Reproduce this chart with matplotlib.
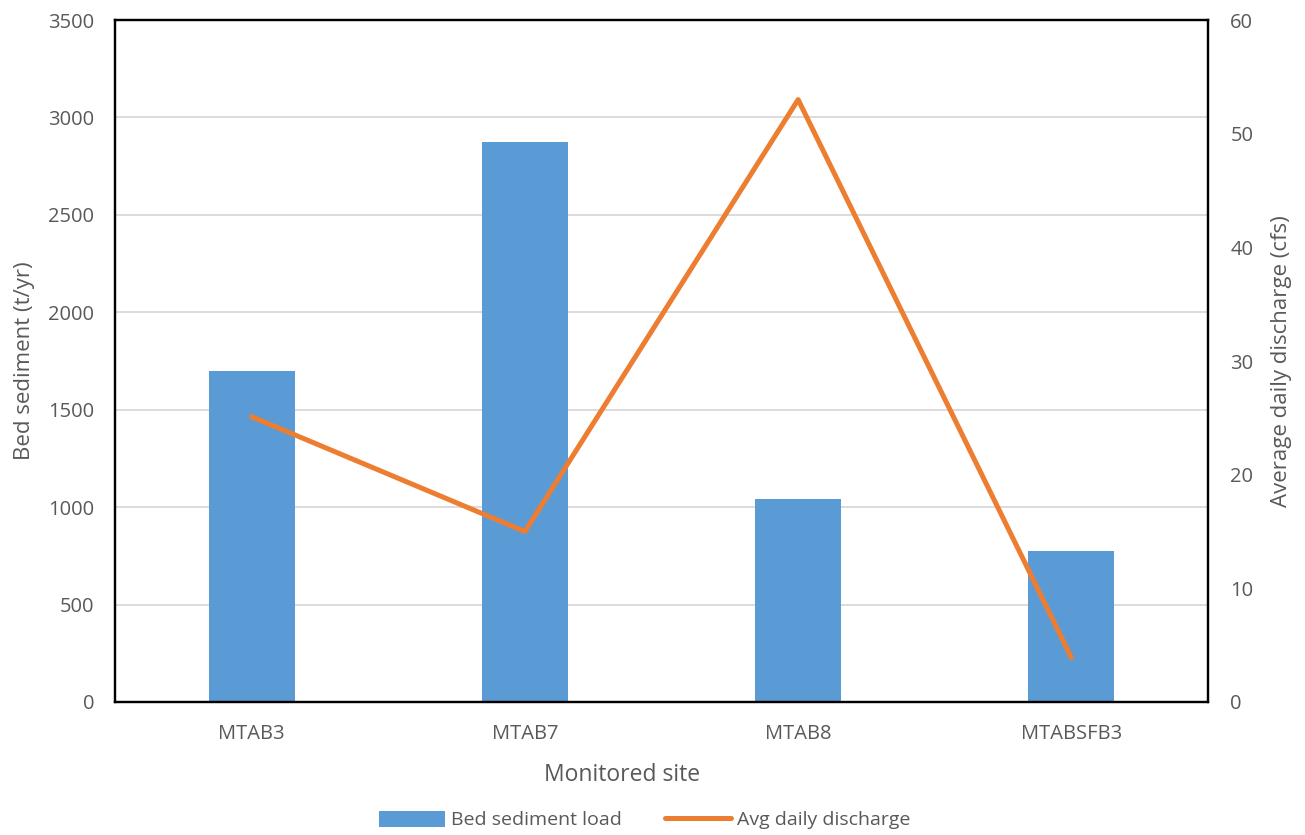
import numpy as np
import matplotlib
matplotlib.use('Agg')
import matplotlib.pyplot as plt

plt.rcParams['font.family'] = ['Open Sans', 'DejaVu Sans']

sites = ['MTAB3', 'MTAB7', 'MTAB8', 'MTABSFB3']
bed_load = [1700, 2875, 1040, 775]
discharge = [25.1, 15.0, 53.0, 3.9]

grey = '#595959'

fig = plt.figure(figsize=(13.05, 8.35), dpi=100)
ax = fig.add_axes([0.0881, 0.1593, 0.8376, 0.8167])
x = np.arange(len(sites))

ax.bar(x, bed_load, width=0.315, color='#5B9BD5', label='Bed sediment load', zorder=2)
ax.set_xlim(-0.5, len(sites) - 0.5)
ax.set_ylim(0, 3500)
ax.set_yticks(np.arange(0, 3501, 500))
ax.yaxis.grid(True, color='#D9D9D9', lw=1.3, zorder=0)
ax.set_axisbelow(True)
ax.set_xticks(x)
ax.set_xticklabels(sites)
ax.tick_params(length=0, labelsize=14.5, colors=grey)
ax.tick_params(axis='x', pad=16)
ax.tick_params(axis='y', pad=15)
for s in ax.spines.values():
    s.set_color('black')
    s.set_linewidth(1.6)
ax.set_xlabel('Monitored site', fontsize=16.5, color=grey)
ax.xaxis.set_label_coords(0.464, -0.09)
ax.set_ylabel('Bed sediment (t/yr)', fontsize=16, color=grey)
ax.yaxis.set_label_coords(-0.073, 0.5)

ax2 = ax.twinx()
ax2.plot(x, discharge, color='#ED7D31', lw=3.6, label='Avg daily discharge',
         solid_joinstyle='round', solid_capstyle='round')
ax2.set_ylim(0, 60)
ax2.set_yticks(np.arange(0, 61, 10))
ax2.tick_params(length=0, labelsize=14.5, colors=grey, pad=16)
for s in ax2.spines.values():
    s.set_color('black')
    s.set_linewidth(1.6)
ax2.set_ylabel('Average daily discharge (cfs)', fontsize=16, color=grey)
ax2.yaxis.set_label_coords(1.058, 0.5)

h1, l1 = ax.get_legend_handles_labels()
h2, l2 = ax2.get_legend_handles_labels()
fig.legend(h1 + h2, l1 + l2, loc='center', bbox_to_anchor=(0.494, 0.018), ncol=2,
           frameon=False, fontsize=14, labelcolor=grey, handlelength=3.4,
           handleheight=0.9, columnspacing=2.2, handletextpad=0.3)

fig.savefig('out.png', dpi=100)
